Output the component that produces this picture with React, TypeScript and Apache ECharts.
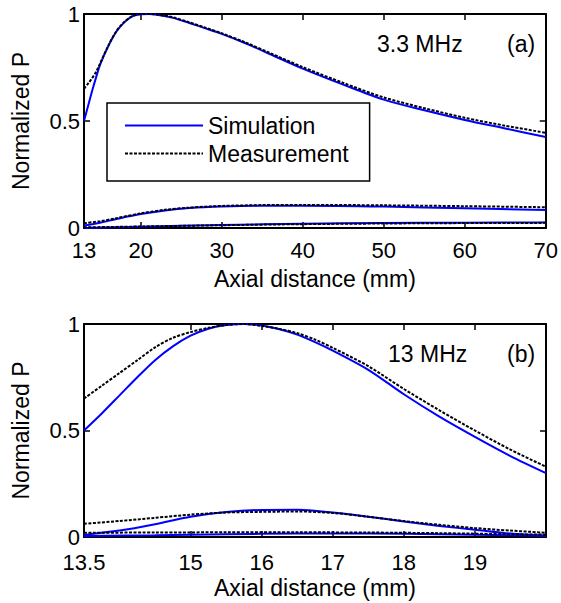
import React, { useEffect, useRef } from "react";
import * as echarts from "echarts";

// ---- Panel (a): 3.3 MHz ----
const topTicks = [13, 20, 30, 40, 50, 60, 70];
const topMainX = [13, 13.5, 14, 14.5, 15, 16, 17, 18, 19, 20, 21, 22, 24, 26, 28, 30, 33, 36, 40, 45, 50, 55, 60, 65, 70];
const topMainSim = [0.5, 0.57, 0.64, 0.705, 0.765, 0.85, 0.918, 0.962, 0.99, 0.999, 1.0, 0.997, 0.982, 0.958, 0.933, 0.907, 0.862, 0.812, 0.745, 0.67, 0.6, 0.55, 0.505, 0.465, 0.425];
const topMainMeas = [0.65, 0.675, 0.7, 0.73, 0.77, 0.852, 0.92, 0.964, 0.991, 1.0, 1.0, 0.998, 0.984, 0.961, 0.936, 0.91, 0.866, 0.817, 0.752, 0.678, 0.61, 0.56, 0.515, 0.478, 0.445];
const topSideX = [13, 15, 17, 20, 23, 26, 30, 35, 40, 50, 60, 70];
const topSideSim = [0.012, 0.025, 0.042, 0.065, 0.082, 0.093, 0.1, 0.104, 0.104, 0.1, 0.092, 0.084];
const topSideMeas = [0.022, 0.032, 0.046, 0.068, 0.085, 0.095, 0.103, 0.107, 0.108, 0.106, 0.102, 0.097];
const topLowX = [13, 20, 30, 40, 50, 60, 70];
const topLowSim = [0.0, 0.006, 0.014, 0.02, 0.023, 0.025, 0.026];
const topLowMeas = [0.003, 0.007, 0.013, 0.018, 0.021, 0.023, 0.024];

// ---- Panel (b): 13 MHz ----
const botTicks = [13.5, 15, 16, 17, 18, 19];
const botMainX = [13.5, 13.75, 14, 14.25, 14.5, 14.75, 15, 15.25, 15.5, 15.75, 16, 16.25, 16.5, 16.75, 17, 17.5, 18, 18.5, 19, 19.5, 20];
const botMainSim = [0.5, 0.58, 0.665, 0.75, 0.83, 0.895, 0.945, 0.978, 0.995, 1.0, 0.993, 0.975, 0.95, 0.915, 0.875, 0.785, 0.67, 0.565, 0.47, 0.38, 0.3];
const botMainMeas = [0.65, 0.71, 0.77, 0.83, 0.89, 0.935, 0.962, 0.982, 0.995, 1.0, 0.991, 0.977, 0.957, 0.927, 0.888, 0.802, 0.695, 0.595, 0.5, 0.41, 0.33];
const botSideX = [13.5, 14, 14.5, 15, 15.5, 16, 16.5, 17, 17.5, 18, 18.5, 19, 19.5, 20];
const botSideSim = [0.01, 0.03, 0.06, 0.095, 0.117, 0.127, 0.128, 0.115, 0.095, 0.073, 0.052, 0.034, 0.016, 0.006];
const botSideMeas = [0.062, 0.075, 0.09, 0.105, 0.115, 0.118, 0.12, 0.113, 0.095, 0.075, 0.057, 0.042, 0.03, 0.02];
const botLowX = [13.5, 14.5, 15.5, 16.5, 17.5, 18.5, 19.5, 20];
const botLowSim = [0.005, 0.008, 0.013, 0.016, 0.016, 0.013, 0.008, 0.006];
const botLowMeas = [0.02, 0.021, 0.022, 0.022, 0.021, 0.018, 0.013, 0.011];

const yTicks = [0, 0.5, 1];

const FONT = "Liberation Sans, Arial, Helvetica, sans-serif";
const BLUE = "#0000ff";

const zip = (xs: number[], ys: number[]) => xs.map((x, i) => [x, ys[i]]);

function xAxisPair(gridIndex: number, min: number, max: number, ticks: number[], labelMargin: number) {
  const common = {
    type: "value",
    gridIndex,
    min,
    max,
    splitLine: { show: false },
    axisLine: { show: true, onZero: false, lineStyle: { color: "#000", width: 2 } },
    axisTick: { show: true, inside: true, length: 6, customValues: ticks, lineStyle: { color: "#000", width: 1.5 } },
  };
  return [
    {
      ...common,
      position: "bottom",
      name: "Axial distance (mm)",
      nameLocation: "middle",
      nameGap: 39,
      nameTextStyle: { fontSize: 23, color: "#000", fontFamily: FONT },
      axisLabel: { show: true, customValues: ticks, margin: labelMargin, fontSize: 22, lineHeight: 16, color: "#000", fontFamily: FONT },
    },
    { ...common, position: "top", axisLabel: { show: false } },
  ];
}

function yAxisPair(gridIndex: number) {
  const common = {
    type: "value",
    gridIndex,
    min: 0,
    max: 1,
    splitLine: { show: false },
    axisLine: { show: true, onZero: false, lineStyle: { color: "#000", width: 2 } },
    axisTick: { show: true, inside: true, length: 6, customValues: yTicks, lineStyle: { color: "#000", width: 1.5 } },
  };
  return [
    {
      ...common,
      position: "left",
      name: "Normalized P",
      nameLocation: "middle",
      nameGap: 52,
      nameTextStyle: { fontSize: 23, color: "#000", fontFamily: FONT },
      axisLabel: { show: true, customValues: yTicks, margin: 4, fontSize: 22, lineHeight: 16, color: "#000", fontFamily: FONT },
    },
    { ...common, position: "right", axisLabel: { show: false } },
  ];
}

function lineSeries(name: string, xi: number, yi: number, data: number[][]) {
  const sim = name === "Simulation";
  return {
    name,
    type: "line",
    xAxisIndex: xi,
    yAxisIndex: yi,
    data,
    smooth: 0.3,
    symbol: "none",
    lineStyle: sim
      ? { color: BLUE, width: 2, type: "solid" }
      : { color: "#000", width: 2, type: [3, 1.5] },
    itemStyle: { color: sim ? BLUE : "#000" },
    z: sim ? 2 : 3,
  };
}

export default function App() {
  const ref = useRef<HTMLDivElement>(null);
  useEffect(() => {
    if (!ref.current) return;
    const chart = echarts.init(ref.current, undefined, { renderer: "svg" });
    chart.setOption({
      animation: false,
      backgroundColor: "#fff",
      grid: [
        { left: 84, top: 14, width: 462, height: 214 },
        { left: 84, top: 324, width: 462, height: 213 },
      ],
      xAxis: [...xAxisPair(0, 13, 70, topTicks, 14), ...xAxisPair(1, 13.5, 20, botTicks, 17)],
      yAxis: [...yAxisPair(0), ...yAxisPair(1)],
      legend: {
        data: ["Simulation", "Measurement"],
        left: 107,
        top: 103,
        orient: "vertical",
        itemWidth: 78,
        itemHeight: 14,
        itemGap: 5,
        padding: [11, 21, 16, 17],
        borderColor: "#000",
        borderWidth: 1.5,
        backgroundColor: "#fff",
        selectedMode: false,
        itemStyle: { opacity: 0 },
        textStyle: { fontSize: 23, color: "#000", fontFamily: FONT },
      },
      graphic: [
        { type: "text", x: 377, y: 44, style: { text: "3.3 MHz", font: `23px ${FONT}`, fill: "#000", verticalAlign: "middle" } },
        { type: "text", x: 507, y: 44, style: { text: "(a)", font: `23px ${FONT}`, fill: "#000", verticalAlign: "middle" } },
        { type: "text", x: 388, y: 354, style: { text: "13 MHz", font: `23px ${FONT}`, fill: "#000", verticalAlign: "middle" } },
        { type: "text", x: 507, y: 354, style: { text: "(b)", font: `23px ${FONT}`, fill: "#000", verticalAlign: "middle" } },
      ],
      series: [
        lineSeries("Simulation", 0, 0, zip(topMainX, topMainSim)),
        lineSeries("Simulation", 0, 0, zip(topSideX, topSideSim)),
        lineSeries("Simulation", 0, 0, zip(topLowX, topLowSim)),
        lineSeries("Measurement", 0, 0, zip(topMainX, topMainMeas)),
        lineSeries("Measurement", 0, 0, zip(topSideX, topSideMeas)),
        lineSeries("Measurement", 0, 0, zip(topLowX, topLowMeas)),
        lineSeries("Simulation", 2, 2, zip(botMainX, botMainSim)),
        lineSeries("Simulation", 2, 2, zip(botSideX, botSideSim)),
        lineSeries("Simulation", 2, 2, zip(botLowX, botLowSim)),
        lineSeries("Measurement", 2, 2, zip(botMainX, botMainMeas)),
        lineSeries("Measurement", 2, 2, zip(botSideX, botSideMeas)),
        lineSeries("Measurement", 2, 2, zip(botLowX, botLowMeas)),
      ],
    });
    return () => chart.dispose();
  }, []);
  return <div ref={ref} style={{ position: "fixed", left: 0, top: 0, width: 561, height: 603 }} />;
}
